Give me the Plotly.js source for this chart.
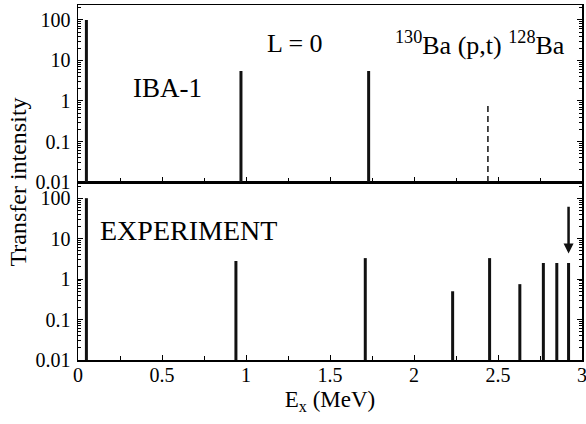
<!DOCTYPE html>
<html>
<head>
<meta charset="utf-8">
<script src="https://cdn.plot.ly/plotly-3.0.1.min.js"></script>
<style>
html,body{margin:0;padding:0;background:#fff;}
#wrap{position:relative;width:586px;height:424px;}
#chart{width:586px;height:424px;}
#ytitle{position:absolute;left:18px;top:182px;transform:translate(-50%,-50%) rotate(-90deg);white-space:nowrap;font-family:'Liberation Serif';font-size:24px;color:#000;line-height:1;}
</style>
</head>
<body>
<div id="wrap">
<div id="chart"></div>
<div id="ytitle"></div>
</div>
<script>
// ---- data ----
const ibaEnergy = [0.05, 0.97, 1.73];
const ibaIntensity = [100, 5.5, 5.5];
const ibaDashedEnergy = [2.44];
const ibaDashedIntensity = [0.85];
const expEnergy = [0.05, 0.94, 1.71, 2.23, 2.45, 2.63, 2.77, 2.85, 2.92];
const expIntensity = [100, 2.8, 3.3, 0.5, 3.3, 0.75, 2.5, 2.5, 2.5];
const arrowEnergy = [2.92];
const arrowFrom = [67];
const arrowTo = [4.3];
const baseline = 0.01;
const xTickVals = [0, 0.5, 1, 1.5, 2, 2.5, 3];
const xTickText = ['0', '0.5', '1', '1.5', '2', '2.5', '3'];
const yTickVals = [0.01, 0.1, 1, 10, 100];
const yTickText = ['0.01', '0.1', '1', '10', '100'];
const yTitle = 'Transfer intensity';

document.getElementById('ytitle').textContent = yTitle;

function sticks(xs, ys) {
  const X = [], Y = [];
  xs.forEach((x, i) => { X.push(x, x, null); Y.push(baseline, ys[i], null); });
  return {X, Y};
}

const FONT = 'Liberation Serif';
const a = sticks(ibaEnergy, ibaIntensity);
const b = sticks(ibaDashedEnergy, ibaDashedIntensity);
const c = sticks(expEnergy, expIntensity);

const traces = [
  {x: a.X, y: a.Y, xaxis: 'x2', yaxis: 'y2', mode: 'lines', line: {color: '#111', width: 3}, hoverinfo: 'skip'},
  {x: b.X, y: b.Y, xaxis: 'x2', yaxis: 'y2', mode: 'lines', line: {color: '#111', width: 1.5, dash: '6px,4px'}, hoverinfo: 'skip'},
  {x: c.X, y: c.Y, xaxis: 'x', yaxis: 'y', mode: 'lines', line: {color: '#111', width: 3}, hoverinfo: 'skip'}
];

const split = 178 / 355;
const yCommon = {
  type: 'log', tickvals: yTickVals, ticktext: yTickText,
  ticks: 'inside', ticklen: 5, tickwidth: 1, tickcolor: '#000',
  minor: {ticks: 'inside', ticklen: 3, tickcolor: '#000', dtick: 'D1', showgrid: false},
  showline: true, linecolor: '#000', linewidth: 1.5, mirror: 'ticks',
  showgrid: false, zeroline: false, ticklabelstandoff: 2,
  tickfont: {family: FONT, size: 20, color: '#000'}
};
const xCommon = {
  range: [0, 3], tickvals: xTickVals, ticktext: xTickText,
  ticks: 'inside', ticklen: 5, tickwidth: 1, tickcolor: '#000',
  minor: {ticks: 'inside', ticklen: 4, tickcolor: '#000', dtick: 0.25, tick0: 0, showgrid: false},
  showline: true, linecolor: '#000', linewidth: 1.5, mirror: true,
  showgrid: false, zeroline: false, ticklabelstandoff: -4, ticklabeloverflow: 'allow',
  tickfont: {family: FONT, size: 20, color: '#000'}
};

const layout = {
  width: 586, height: 424,
  margin: {l: 78, r: 4, t: 5, b: 64},
  paper_bgcolor: '#fff', plot_bgcolor: '#fff',
  showlegend: false,
  font: {family: FONT, color: '#000'},
  xaxis: Object.assign({}, xCommon, {anchor: 'y',
    title: {text: 'E<sub>x</sub> (MeV)', font: {family: FONT, size: 23, color: '#000'}, standoff: 6}}),
  xaxis2: Object.assign({}, xCommon, {anchor: 'y2', matches: 'x', showticklabels: false}),
  yaxis: Object.assign({}, yCommon, {domain: [0, split], range: [-2, 2.4]}),
  yaxis2: Object.assign({}, yCommon, {domain: [split, 1], range: [-2, 2.37]}),
  annotations: [
    {xref: 'x2', yref: 'y2', x: 1.29, y: 1.43, text: 'L = 0', showarrow: false,
     font: {family: FONT, size: 26, color: '#000'}},
    {xref: 'x2', yref: 'y2', x: 2.39, y: 1.43, text: '<sup>130</sup>Ba (p,t) <sup>128</sup>Ba', showarrow: false,
     font: {family: FONT, size: 26, color: '#000'}},
    {xref: 'x2', yref: 'y2', x: 0.53, y: 0.32, text: 'IBA-1', showarrow: false,
     font: {family: FONT, size: 27, color: '#000'}},
    {xref: 'x', yref: 'y', x: 0.66, y: 1.19, text: 'EXPERIMENT', showarrow: false,
     font: {family: FONT, size: 28, color: '#000'}},
    {xref: 'x', yref: 'y', axref: 'x', ayref: 'y',
     x: arrowEnergy[0], y: Math.log10(arrowTo[0]), ax: arrowEnergy[0], ay: Math.log10(arrowFrom[0]),
     text: '', showarrow: true, arrowhead: 2, arrowsize: 0.8, arrowwidth: 2.5, arrowcolor: '#111', standoff: 0}
  ]
};

Plotly.newPlot('chart', traces, layout, {staticPlot: true, displayModeBar: false});
</script>
</body>
</html>
